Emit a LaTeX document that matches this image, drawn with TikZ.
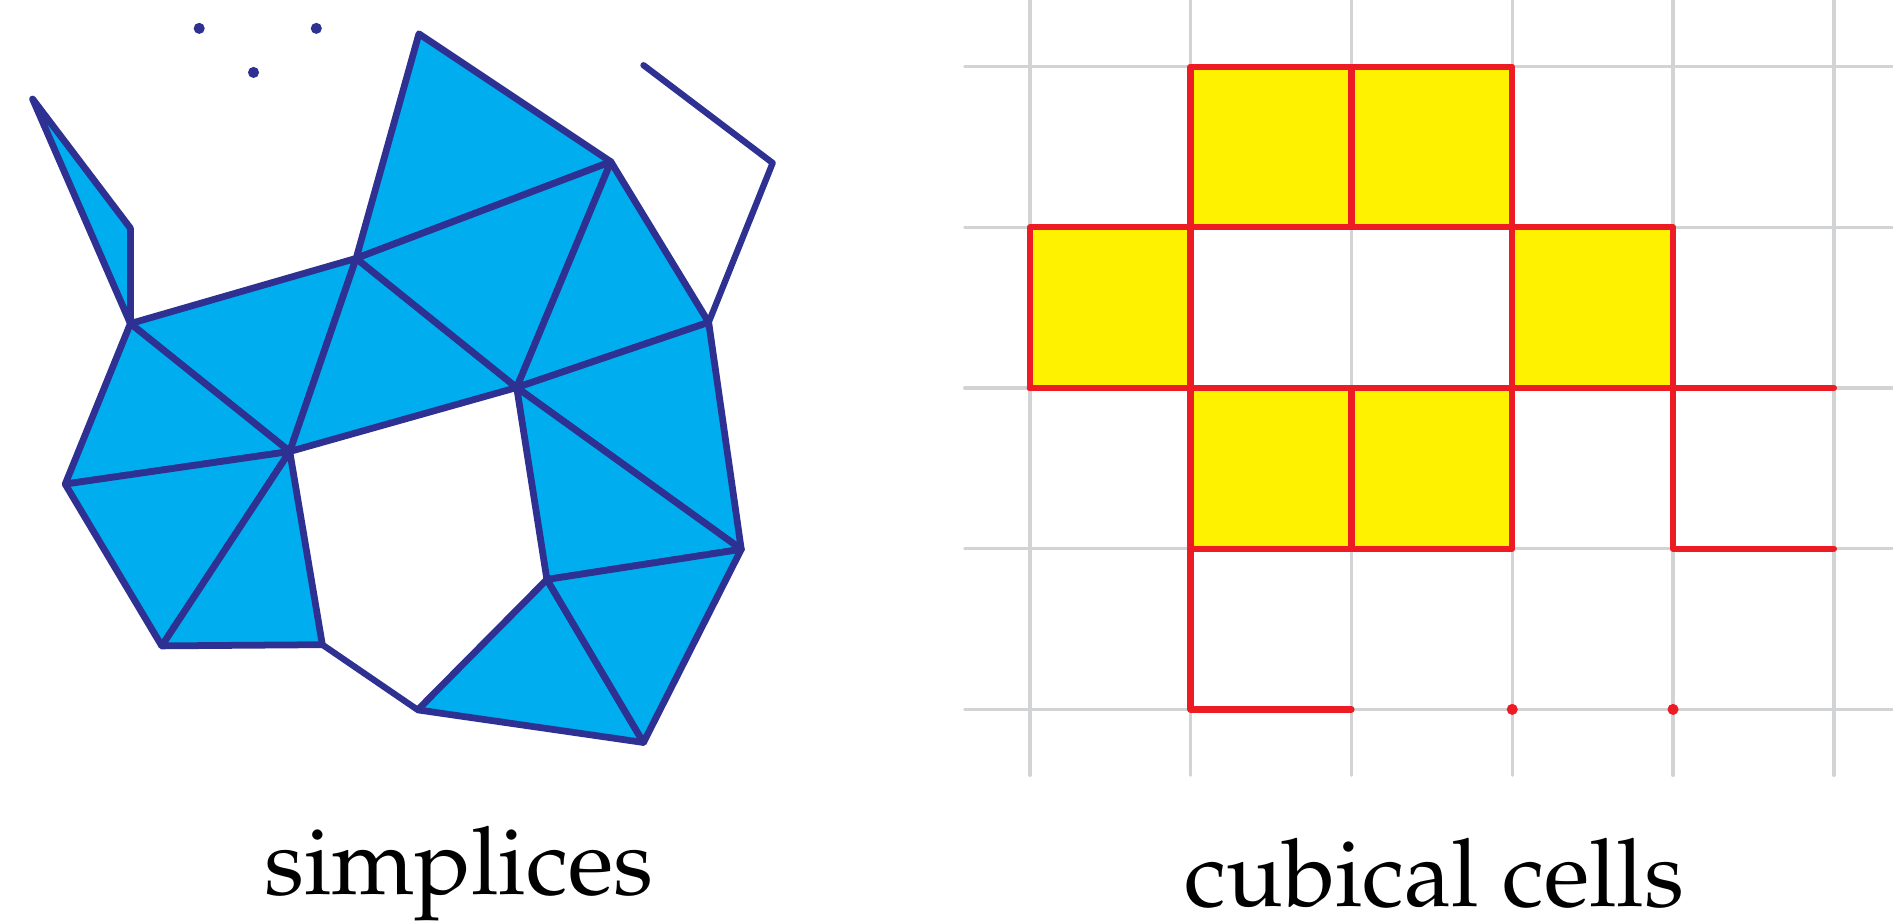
\documentclass[tikz,border=0pt]{standalone}
\usepackage[T1]{fontenc}
\usepackage{mathpazo}
\definecolor{cyanfill}{HTML}{00AEEF}
\definecolor{navy}{HTML}{2E3192}
\definecolor{gridgray}{HTML}{D1D3D4}
\definecolor{redline}{HTML}{ED1C24}
\definecolor{yellowfill}{HTML}{FFF200}
\begin{document}
\begin{tikzpicture}[x=0.5pt,y=-0.5pt, line join=round, line cap=round,
  simp/.style={fill=cyanfill, draw=navy, line width=2.8pt},
  edgeline/.style={draw=navy, line width=2.6pt},
  gridline/.style={draw=gridgray, line width=1.4pt},
  cell/.style={fill=yellowfill, draw=redline, line width=2.6pt},
  redl/.style={draw=redline, line width=2.6pt},
  lbl/.style={font=\fontsize{39}{45}\selectfont, anchor=base, inner sep=0pt}]
\useasboundingbox (0,0) rectangle (1568,765);
% ---------- simplicial complex ----------
\coordinate (A) at (27,82);
\coordinate (B) at (108,189);
\coordinate (C) at (108,268);
\coordinate (D) at (295,214);
\coordinate (E) at (347,28);
\coordinate (F) at (506,134);
\coordinate (G) at (587,267);
\coordinate (H) at (428,321);
\coordinate (I) at (240,374);
\coordinate (J) at (54,401);
\coordinate (K) at (134,535);
\coordinate (L) at (267,534);
\coordinate (M) at (346,588);
\coordinate (N) at (453,480);
\coordinate (O) at (614,455);
\coordinate (P) at (533,615);
\coordinate (Q) at (533,54);
\coordinate (R) at (640,135);
\foreach \a/\b/\c in {A/B/C, C/D/I, C/I/J, D/H/I, D/E/F, D/F/H, F/G/H, G/H/O, H/N/O, I/J/K, I/K/L, M/N/P, N/O/P}
  \filldraw[simp] (\a) -- (\b) -- (\c) -- cycle;
\draw[edgeline] (L) -- (M);
\draw[edgeline] (G) -- (R) -- (Q);
\fill[navy] (165,23.5) circle[radius=2.3pt];
\fill[navy] (262,23.5) circle[radius=2.3pt];
\fill[navy] (210,60) circle[radius=2.3pt];
% ---------- cubical complex ----------
\begin{scope}[shift={(853,55.2)}, x=66.6pt, y=-66.55pt]
  \foreach \i in {0,...,5}
    \draw[gridline] (\i,-0.415) -- (\i,4.41);
  \foreach \j in {0,...,4}
    \draw[gridline] (-0.405,\j) -- (5.4,\j);
  \foreach \i/\j in {1/0, 2/0, 0/1, 3/1, 1/2, 2/2}
    \filldraw[cell] (\i,\j) rectangle ++(1,1);
  \draw[redl] (0,2) -- (5,2);
  \draw[redl] (4,2) -- (4,3) -- (5,3);
  \draw[redl] (1,3) -- (1,4) -- (2,4);
  \fill[redline] (3,4) circle[radius=2.3pt];
  \fill[redline] (4,4) circle[radius=2.3pt];
\end{scope}
% ---------- labels ----------
\node[lbl] (simplabel) at (380,741) {simplices};
\node[lbl] (cublabel) at (1188,751) {cubical cells};
\end{tikzpicture}
\end{document}
